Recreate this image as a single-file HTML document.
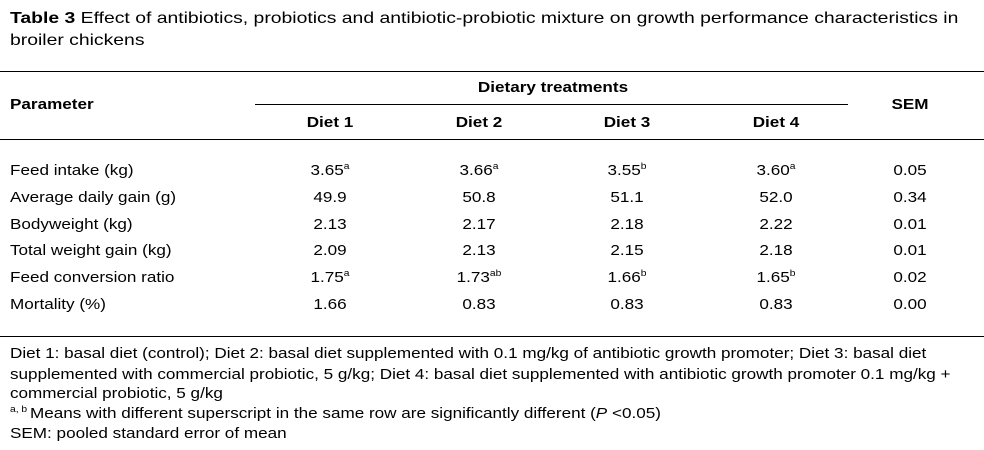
<!DOCTYPE html>
<html><head><meta charset="utf-8"><style>
body{margin:0;background:#fff;}
#page{position:relative;width:984px;height:450px;font-family:"Liberation Sans",Arial,sans-serif;color:#000;overflow:hidden;}
.t{position:absolute;white-space:nowrap;font-size:15px;transform:scaleX(1.14);transform-origin:0 0;}
.c{position:absolute;white-space:nowrap;font-size:15px;transform:translateX(-50%) scaleX(1.14);}
.b{font-weight:bold;}
.line{position:absolute;height:1px;background:#000;}
sup{font-size:9px;vertical-align:6px;line-height:0;}
.f{position:absolute;left:10px;font-size:15px;white-space:nowrap;transform:scaleX(1.14);transform-origin:0 0;}
.title{position:absolute;left:10px;font-size:16px;white-space:nowrap;transform:scaleX(1.21);transform-origin:0 0;}
</style></head><body>
<div id="page">
<div class="title" style="top:10px"><b>Table 3</b> Effect of antibiotics, probiotics and antibiotic-probiotic mixture on growth performance characteristics in</div>
<div class="title" style="top:32px">broiler chickens</div>
<div class="line" style="left:0;top:71px;width:984px"></div>
<div class="line" style="left:255px;top:104px;width:593px"></div>
<div class="line" style="left:0;top:139px;width:984px"></div>
<div class="line" style="left:0;top:336px;width:984px"></div>
<div class="t b" style="left:10px;top:96px">Parameter</div>
<div class="c b" style="left:553px;top:79px">Dietary treatments</div>
<div class="c b" style="left:910px;top:96px">SEM</div>
<div class="c b" style="left:330px;top:114px">Diet 1</div>
<div class="c b" style="left:479px;top:114px">Diet 2</div>
<div class="c b" style="left:627px;top:114px">Diet 3</div>
<div class="c b" style="left:776px;top:114px">Diet 4</div>
<div class="f" style="top:345px">Diet 1: basal diet (control); Diet 2: basal diet supplemented with 0.1 mg/kg of antibiotic growth promoter; Diet 3: basal diet</div>
<div class="f" style="top:366px">supplemented with commercial probiotic, 5 g/kg; Diet 4: basal diet supplemented with antibiotic growth promoter 0.1 mg/kg +</div>
<div class="f" style="top:385px">commercial probiotic, 5 g/kg</div>
<div class="f" style="top:405px"><sup>a, b </sup>Means with different superscript in the same row are significantly different (<i>P</i> &lt;0.05)</div>
<div class="f" style="top:425px">SEM: pooled standard error of mean</div>
</div>
<script>
const params=["Feed intake (kg)","Average daily gain (g)","Bodyweight (kg)","Total weight gain (kg)","Feed conversion ratio","Mortality (%)"];
const diet1=["3.65|a","49.9","2.13","2.09","1.75|a","1.66"];
const diet2=["3.66|a","50.8","2.17","2.13","1.73|ab","0.83"];
const diet3=["3.55|b","51.1","2.18","2.15","1.66|b","0.83"];
const diet4=["3.60|a","52.0","2.22","2.18","1.65|b","0.83"];
const sem=["0.05","0.34","0.01","0.01","0.02","0.00"];
const cols=[diet1,diet2,diet3,diet4,sem];
const colX=[330,479,627,776,910];
const page=document.getElementById('page');
params.forEach((p,i)=>{
  const y=162+i*26.8;
  const d=document.createElement('div');
  d.className='t';d.style.left='10px';d.style.top=y+'px';d.textContent=p;
  
  
  page.appendChild(d);
  cols.forEach((col,j)=>{
    const [v,s]=col[i].split('|');
    const c=document.createElement('div');
    c.className='c';c.style.left=colX[j]+'px';c.style.top=y+'px';
    c.textContent=v;
    if(s){const sp=document.createElement('sup');sp.textContent=s;c.appendChild(sp);}
    
    
    page.appendChild(c);
  });
});
</script>
</body></html>
